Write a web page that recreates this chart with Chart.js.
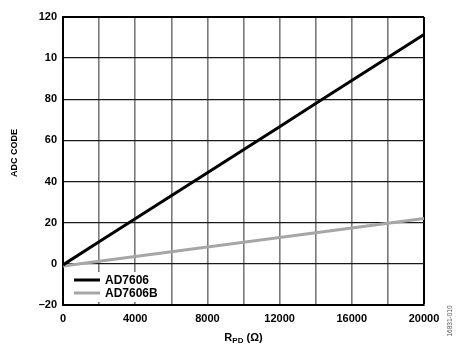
<!DOCTYPE html>
<html>
<head>
<meta charset="utf-8">
<script src="https://cdn.jsdelivr.net/npm/chart.js@4.4.1/dist/chart.umd.min.js"></script>
<style>
  html, body { margin: 0; padding: 0; background: #ffffff; }
  #wrap { width: 465px; height: 352px; position: relative; }
</style>
</head>
<body>
<div id="wrap"><canvas id="c" width="465" height="352"></canvas></div>
<script>
// ---- data ----
const rpd = [0, 2000, 4000, 6000, 8000, 10000, 12000, 14000, 16000, 18000, 20000];
const ad7606 = [-0.5, 10.7, 21.9, 33.1, 44.3, 55.5, 66.7, 77.9, 89.1, 100.3, 111.5];
const ad7606b = [-1, 1.3, 3.6, 5.9, 8.2, 10.5, 12.8, 15.1, 17.4, 19.7, 22];
const seriesNames = ['AD7606', 'AD7606B'];
const yTickValues = [-20, 0, 20, 40, 60, 80, 100, 120];
const yTickLabels = ['\u201320', '0', '20', '40', '60', '80', '10', '120'];
const xGridValues = [0, 2000, 4000, 6000, 8000, 10000, 12000, 14000, 16000, 18000, 20000];
const xTickValues = [0, 4000, 8000, 12000, 16000, 20000];
const xTickLabels = ['0', '4000', '8000', '12000', '16000', '20000'];
const yTitle = 'ADC CODE';
const xTitleMain = 'R';
const xTitleSub = 'PD';
const xTitleRest = ' (\u03A9)';
const figureId = '16831-010';

const BOLD = '"Liberation Sans", Arial, sans-serif';

const extrasPlugin = {
  id: 'extras',
  afterDatasetsDraw(chart) {
    const ctx = chart.ctx;
    const ca = chart.chartArea;
    ctx.save();
    // legend box (white background hides grid)
    const lx = ca.left + 1.5, ly = 272;
    ctx.fillStyle = '#ffffff';
    ctx.fillRect(lx, ly, 100, 30);
    chart.data.datasets.forEach((ds, i) => {
      const y = 280 + i * 13;
      ctx.strokeStyle = ds.borderColor;
      ctx.lineWidth = 3;
      ctx.beginPath();
      ctx.moveTo(74, y);
      ctx.lineTo(100, y);
      ctx.stroke();
      ctx.fillStyle = '#000000';
      ctx.font = 'bold 12px ' + BOLD;
      ctx.textAlign = 'left';
      ctx.textBaseline = 'middle';
      ctx.fillText(ds.label, 105, y + 0.5);
    });
    ctx.restore();
  },
  afterDraw(chart) {
    const ctx = chart.ctx;
    ctx.save();
    // y title
    ctx.fillStyle = '#000000';
    ctx.font = 'bold 9px ' + BOLD;
    ctx.textAlign = 'center';
    ctx.textBaseline = 'middle';
    ctx.translate(15, 153);
    ctx.rotate(-Math.PI / 2);
    ctx.fillText(yTitle, 0, 0);
    ctx.restore();

    // x title with subscript
    ctx.save();
    ctx.fillStyle = '#000000';
    ctx.textBaseline = 'alphabetic';
    ctx.textAlign = 'left';
    const mainFont = 'bold 11px ' + BOLD;
    const subFont = 'bold 8px ' + BOLD;
    ctx.font = mainFont;
    const w1 = ctx.measureText(xTitleMain).width;
    const w3 = ctx.measureText(xTitleRest).width;
    ctx.font = subFont;
    const w2 = ctx.measureText(xTitleSub).width;
    const total = w1 + w2 + w3;
    let x = 243.5 - total / 2;
    const base = 340.5;
    ctx.font = mainFont;
    ctx.fillText(xTitleMain, x, base);
    x += w1;
    ctx.font = subFont;
    ctx.fillText(xTitleSub, x, base + 2.5);
    x += w2;
    ctx.font = mainFont;
    ctx.fillText(xTitleRest, x, base);
    ctx.restore();

    // figure id
    ctx.save();
    ctx.fillStyle = '#555555';
    ctx.font = '6.5px ' + BOLD;
    ctx.textAlign = 'center';
    ctx.textBaseline = 'middle';
    ctx.translate(450, 321);
    ctx.rotate(-Math.PI / 2);
    ctx.fillText(figureId, 0, 0);
    ctx.restore();
  }
};

new Chart(document.getElementById('c'), {
  type: 'line',
  data: {
    datasets: [
      {
        label: seriesNames[0],
        data: rpd.map((x, i) => ({ x: x, y: ad7606[i] })),
        borderColor: '#000000',
        borderWidth: 3,
        pointRadius: 0,
        tension: 0,
        fill: false
      },
      {
        label: seriesNames[1],
        data: rpd.map((x, i) => ({ x: x, y: ad7606b[i] })),
        borderColor: '#a6a6a6',
        borderWidth: 3,
        pointRadius: 0,
        tension: 0,
        fill: false
      }
    ]
  },
  options: {
    responsive: false,
    animation: false,
    devicePixelRatio: 1,
    layout: { padding: { left: 0, right: 41, top: 17, bottom: 0 } },
    plugins: {
      legend: { display: false },
      tooltip: { enabled: false }
    },
    scales: {
      x: {
        type: 'linear',
        min: 0,
        max: 20000,
        afterFit(s) { s.height = 47; },
        afterBuildTicks(s) {
          s.ticks = xGridValues.map(v => ({ value: v }));
        },
        ticks: {
          autoSkip: false,
          maxRotation: 0,
          padding: 7,
          color: '#000000',
          font: { family: BOLD, size: 11, weight: 'bold' },
          callback(v) {
            const i = xTickValues.indexOf(v);
            return i >= 0 ? xTickLabels[i] : '';
          }
        },
        grid: {
          drawTicks: false,
          color(c) { return c.tick && c.tick.value === 20000 ? '#000000' : '#7a7a7a'; },
          lineWidth(c) { return c.tick && c.tick.value === 20000 ? 2 : 1.6; }
        },
        border: { display: true, color: '#000000', width: 2 }
      },
      y: {
        type: 'linear',
        min: -20,
        max: 120,
        afterFit(s) { s.width = 63; },
        afterBuildTicks(s) {
          s.ticks = yTickValues.map(v => ({ value: v }));
        },
        ticks: {
          autoSkip: false,
          padding: 6,
          color: '#000000',
          font: { family: BOLD, size: 11, weight: 'bold' },
          callback(v) {
            const i = yTickValues.indexOf(v);
            return i >= 0 ? yTickLabels[i] : '';
          }
        },
        grid: {
          drawTicks: false,
          color(c) { return c.tick && c.tick.value === 120 ? '#000000' : '#1a1a1a'; },
          lineWidth(c) { return c.tick && c.tick.value === 120 ? 2 : 1.3; }
        },
        border: { display: true, color: '#000000', width: 2 }
      }
    }
  },
  plugins: [extrasPlugin]
});
</script>
</body>
</html>
